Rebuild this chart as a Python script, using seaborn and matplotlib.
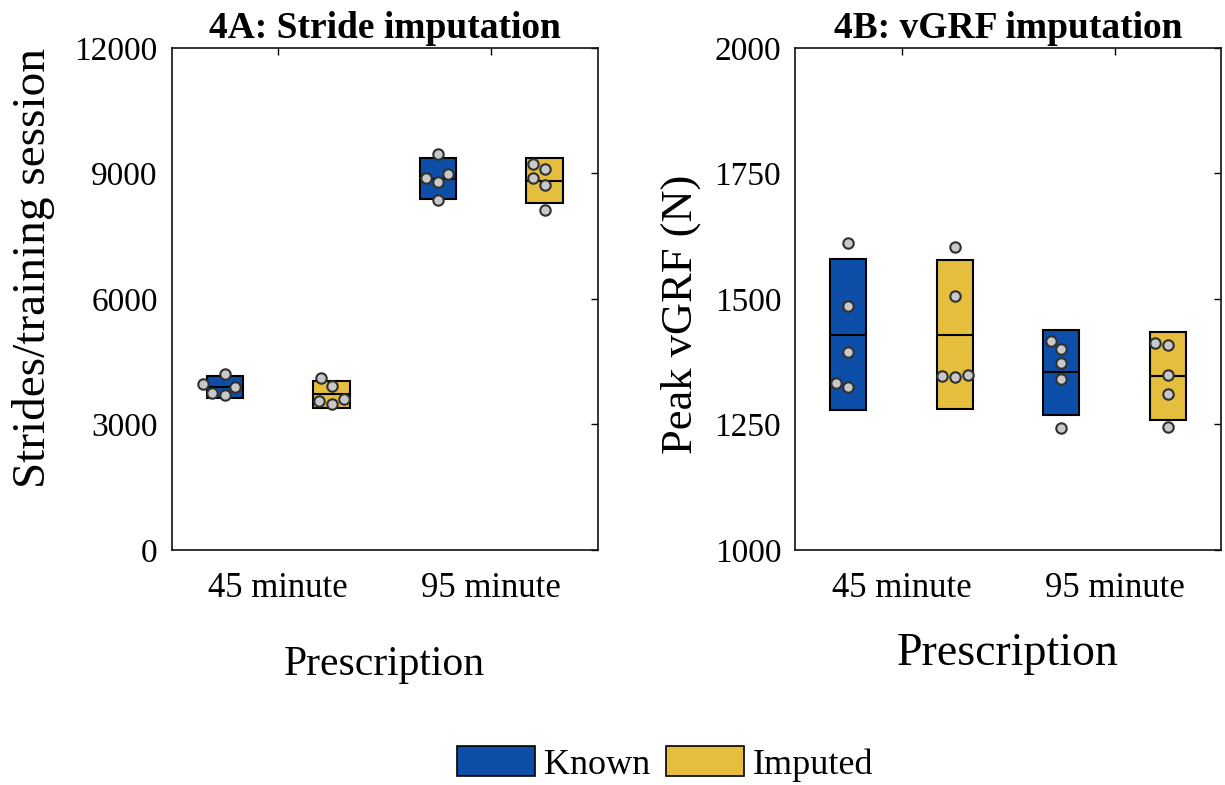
import numpy as np
import pandas as pd
import matplotlib
matplotlib.use("Agg")
import matplotlib.pyplot as plt
import seaborn as sns
from matplotlib.patches import Patch

sns.set_theme(style="white")
plt.rcParams["font.family"] = ["Liberation Serif", "DejaVu Serif"]
plt.rcParams["text.color"] = "black"
plt.rcParams["axes.labelcolor"] = "black"

# --- data ---
prescriptions = ["45 minute", "95 minute"]
groups = ["Known", "Imputed"]
colors = {"Known": "#0C4EA8", "Imputed": "#E4BE3C"}

# 4A: strides per training session (individual values)
strides_known_45 = [4199, 3977, 3896, 3762, 3705]
strides_known_95 = [9463, 8977, 8891, 8795, 8366]
strides_imp_45 = [4111, 3920, 3602, 3555, 3483]
strides_imp_95 = [9216, 9097, 8891, 8731, 8128]
# box = mean +/- SD
strides_mean = {"Known": [3896, 8875], "Imputed": [3722, 8827]}
strides_sd = {"Known": [254, 485], "Imputed": [326, 529]}

# 4B: peak vGRF (N)
vgrf_known_45 = [1611, 1485, 1394, 1332, 1324]
vgrf_known_95 = [1416, 1401, 1372, 1341, 1242]
vgrf_imp_45 = [1603, 1506, 1348, 1346, 1344]
vgrf_imp_95 = [1413, 1409, 1349, 1311, 1245]
vgrf_mean = {"Known": [1429, 1354], "Imputed": [1429, 1347]}
vgrf_sd = {"Known": [150, 85], "Imputed": [149, 88]}

box_w = 0.17
offsets = {"Known": -0.25, "Imputed": 0.25}


def long_table(k45, k95, i45, i95):
    rows = []
    for g, i, vals in [("Known", 0, k45), ("Known", 1, k95),
                       ("Imputed", 0, i45), ("Imputed", 1, i95)]:
        for v in vals:
            rows.append({"Pos": i + offsets[g], "Group": g, "Value": v})
    return pd.DataFrame(rows)


df_a = long_table(strides_known_45, strides_known_95, strides_imp_45, strides_imp_95)
df_b = long_table(vgrf_known_45, vgrf_known_95, vgrf_imp_45, vgrf_imp_95)

fig = plt.figure(figsize=(12.25, 7.85), dpi=100)
ax_a = fig.add_axes([0.1402, 0.2994, 0.3478, 0.6397])
ax_b = fig.add_axes([0.6490, 0.2994, 0.3478, 0.6397])


def draw_panel(ax, df, means, sds, ylim, yticks, title, ylabel, ylab_size,
               ylab_pos, xlab_y, xlab_size):
    xs = np.arange(len(prescriptions))
    for g in groups:
        m = np.array(means[g])
        s = np.array(sds[g])
        ax.bar(xs + offsets[g], 2 * s, bottom=m - s, width=box_w,
               color=colors[g], edgecolor="black", linewidth=1.5, zorder=2)
        ax.hlines(m, xs + offsets[g] - box_w / 2, xs + offsets[g] + box_w / 2,
                  color="black", linewidth=1.5, zorder=3)
    sns.swarmplot(data=df, x="Pos", y="Value", native_scale=True, orient="v",
                  color="#C8C8C8", size=7.5, edgecolor="#303030", linewidth=1.5,
                  legend=False, ax=ax, zorder=4)
    ax.set_xlim(-0.5, 1.5)
    ax.set_ylim(*ylim)
    ax.set_yticks(yticks)
    ax.set_xticks(xs)
    ax.set_xticklabels(prescriptions)
    ax.tick_params(axis="both", direction="in", length=5, width=1,
                   top=True, right=True, colors="black")
    ax.tick_params(axis="y", pad=10, labelsize=24)
    ax.tick_params(axis="x", pad=16, labelsize=25)
    for sp in ax.spines.values():
        sp.set_visible(True)
        sp.set_color("#111111")
        sp.set_linewidth(1.2)
    ax.set_title(title, fontsize=27, fontweight="bold", pad=7)
    ax.set_ylabel(ylabel, fontsize=ylab_size)
    ax.yaxis.set_label_coords(*ylab_pos)
    ax.set_xlabel("Prescription", fontsize=xlab_size)
    ax.xaxis.set_label_coords(0.5, xlab_y)
    ax.grid(False)


draw_panel(ax_a, df_a, strides_mean, strides_sd, (0, 12000),
           [0, 3000, 6000, 9000, 12000], "4A: Stride imputation",
           "Strides/training session", 34, (-0.274, 0.5625), -0.19, 30)
draw_panel(ax_b, df_b, vgrf_mean, vgrf_sd, (1000, 2000),
           [1000, 1250, 1500, 1750, 2000], "4B: vGRF imputation",
           "Peak vGRF (N)", 32, (-0.22, 0.47), -0.165, 33)

handles = [Patch(facecolor=colors[g], edgecolor="black", linewidth=1.2, label=g)
           for g in groups]
fig.legend(handles=handles, loc="center", bbox_to_anchor=(0.543, 0.027),
           ncol=2, frameon=False, fontsize=26, handlelength=2.15,
           handleheight=0.9, handletextpad=0.25, columnspacing=0.45)

fig.savefig("out.png", dpi=100, facecolor="white")
